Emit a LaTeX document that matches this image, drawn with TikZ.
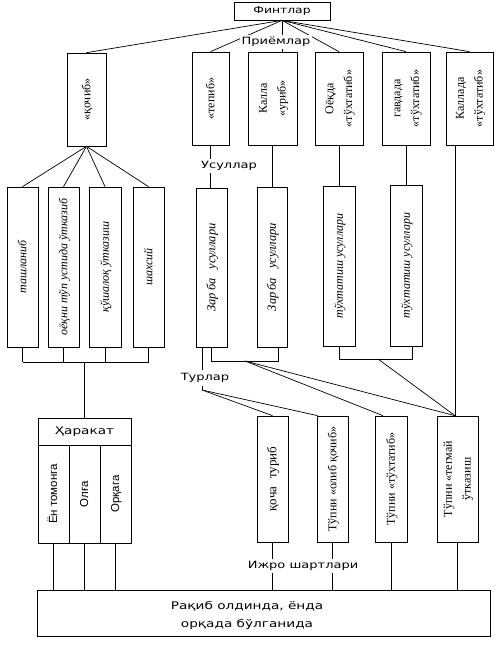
\documentclass[tikz,border=0pt]{standalone}
\usepackage{fontspec}
\setmainfont{Liberation Serif}
\newfontfamily\widelabfont[FakeStretch=1.3]{DejaVu Sans}
\newfontfamily\colsansfont{Liberation Sans}
\newcommand{\rottext}[1]{\rotatebox{90}{\renewcommand{\arraystretch}{1.3}\begin{tabular}{@{}c@{}}#1\end{tabular}}}
\begin{document}
\begin{tikzpicture}[x=1pt,y=-1pt,line width=0.7pt,
  box/.style={draw,inner sep=0pt,font=\fontsize{12}{14.5}\selectfont},
  itbox/.style={box,font=\fontsize{12}{14.5}\selectfont\itshape},
  colbox/.style={box,font=\colsansfont\fontsize{11.5}{14}\selectfont},
  lab/.style={fill=white,inner sep=2pt,font=\widelabfont\fontsize{10}{12}\selectfont},
  labtext/.style={inner sep=0pt,align=center,font=\widelabfont\fontsize{10.5}{12}\selectfont},
]
\useasboundingbox (0,0) rectangle (503,645);

% top
\node[box,minimum width=96pt,minimum height=18pt,font=\widelabfont\fontsize{9.5}{12}\selectfont] (fint) at (282,11) {Финтлар};

% row 1
\node[box,minimum width=39pt,minimum height=93pt] (kochib) at (86.5,99.5) {\rottext{«қочиб»}};
\node[box,minimum width=37pt,minimum height=93pt] (tepib) at (210.5,98.5) {\rottext{«тепиб»}};
\node[box,minimum width=49pt,minimum height=93pt] (kalla) at (272.5,98.5) {\rottext{Калла\\«уриб»}};
\node[box,minimum width=48pt,minimum height=93pt] (oyoq) at (339,98.5) {\rottext{Оёқда\\«тўхтатиб»}};
\node[box,minimum width=48pt,minimum height=93pt] (gavda) at (406,98.5) {\rottext{гавдада\\«тўхтатиб»}};
\node[box,minimum width=47pt,minimum height=93pt] (kallada) at (469.5,98.5) {\rottext{Каллада\\«тўхтатиб»}};

% row 2
\node[itbox,minimum width=31pt,minimum height=160pt] (tash) at (22.5,267) {\rottext{ташланиб}};
\node[itbox,minimum width=31pt,minimum height=160pt] (oyoqni) at (63.5,267) {\rottext{оёқни тўп устида ўтказиб}};
\node[itbox,minimum width=32pt,minimum height=160pt] (qosh) at (105,267) {\rottext{қўшалоқ ўтказиш}};
\node[itbox,minimum width=31pt,minimum height=160pt] (shax) at (148.5,267) {\rottext{шахсий}};
\node[itbox,minimum width=31pt,minimum height=159pt] (zarba1) at (211.5,267.5) {\rottext{\fontsize{12.5}{14.5}\selectfont Зар\,ба\hspace{9pt}усуллари}};
\node[itbox,minimum width=30pt,minimum height=160pt] (zarba2) at (272,267) {\rottext{\fontsize{12.5}{14.5}\selectfont Зар\,ба\hspace{9pt}усуллари}};
\node[itbox,minimum width=32pt,minimum height=160pt] (tuxt1) at (339,266) {\rottext{тўхтатиш усуллари}};
\node[itbox,minimum width=32pt,minimum height=161pt] (tuxt2) at (406,265.5) {\rottext{тўхтатиш усуллари}};

% row 3
\node[box,minimum width=31pt,minimum height=126pt] (qocha) at (272.5,479) {\rottext{\fontsize{13}{15}\selectfont қоча\hspace{8pt}туриб}};
\node[box,minimum width=31pt,minimum height=126pt] (olib) at (332.5,479) {\rottext{Тўпни «олиб қочиб»}};
\node[box,minimum width=32pt,minimum height=126pt] (tuxtatib) at (391,479) {\rottext{Тўпни «тўхтатиб»}};
\node[box,minimum width=41pt,minimum height=126pt] (tegmay) at (457.5,479) {\rottext{Тўпни «тегмай\\ўтказиш}};

% harakat
\node[box,minimum width=93pt,minimum height=27pt,font=\widelabfont\fontsize{10.5}{12}\selectfont] (harakat) at (84.5,431.5) {Ҳаракат};
\node[colbox,minimum width=31pt,minimum height=98pt] (col1) at (53.5,494) {\rottext{Ён томонга}};
\node[colbox,minimum width=31pt,minimum height=98pt] (col2) at (84.5,494) {\rottext{Олға}};
\node[colbox,minimum width=31pt,minimum height=98pt] (col3) at (115.5,494) {\rottext{Орқага}};

% bottom
\node[box,minimum width=453pt,minimum height=46pt] (bottom) at (263.5,613) {};
\node[labtext] (btext) at (247,615.5) {Рақиб олдинда, ёнда\\[6pt]орқада бўлганида};

% helper coordinates
\coordinate (lb) at (84.5,362);
\coordinate (zb) at (245,361);
\coordinate (z2b) at ([xshift=6pt]zarba2.south);
\coordinate (tb) at (378,359);
\coordinate (t2b) at ([xshift=6pt]tuxt2.south);
\coordinate (tg) at ([xshift=-2.5pt]tegmay.north);
\coordinate (tt) at ([xshift=-8pt]tuxtatib.north);
\coordinate (z1l) at ([xshift=-9.5pt]zarba1.south);
\coordinate (tu) at (202,390);

% connectors from top
\draw (fint.south) -- (kochib.north);
\draw (fint.south) -- (tepib.north);
\draw (fint.south) -- (fint.south |- kalla.north);
\draw (fint.south) -- (oyoq.north);
\draw (fint.south) -- (gavda.north);
\draw (fint.south) -- (kallada.north);

% kochib fan
\foreach \b in {tash,oyoqni,qosh,shax} \draw (kochib.south) -- (\b.north);

% row1 to row2
\draw (tepib.south) -- (tepib.south |- zarba1.north);
\draw (kalla.south) -- (kalla.south |- zarba2.north);
\draw (oyoq.south) -- (oyoq.south |- tuxt1.north);
\draw (gavda.south) -- (gavda.south |- tuxt2.north);
\draw (tg |- kallada.south) -- (tg);

% left bracket
\foreach \b in {tash,oyoqni,qosh,shax} \draw (\b.south) -- (\b.south |- lb);
\draw (tash.south |- lb) -- (shax.south |- lb);
\draw (lb) -- (harakat.north);

% zarba bracket
\draw (zarba1.south) -- (zarba1.south |- zb) -- (z2b |- zb) -- (z2b);
\draw (zb) -- (tt);
\draw (zb) -- (tg);

% tuxtatish bracket
\draw (tuxt1.south) -- (tuxt1.south |- tb) -- (t2b |- tb) -- (t2b);
\draw (tb) -- (tg);

% turlar
\draw (z1l) -- (z1l |- tu);
\draw (tu) -- (qocha.north);
\draw (tu) -- ([xshift=1pt]olib.north west);

% to bottom
\foreach \b in {col1,col2,col3,qocha,olib,tuxtatib,tegmay} \draw (\b.south) -- (\b.south |- bottom.north);

% labels over lines
\node[lab] (priyom) at (276,42) {Приёмлар};
\node[lab] (usul) at (229,166) {Усуллар};
\node[lab,inner sep=3pt] (turlar) at (205,378) {Турлар};
\node[lab] (ijro) at (303,566) {Ижро шартлари};
\end{tikzpicture}
\end{document}
